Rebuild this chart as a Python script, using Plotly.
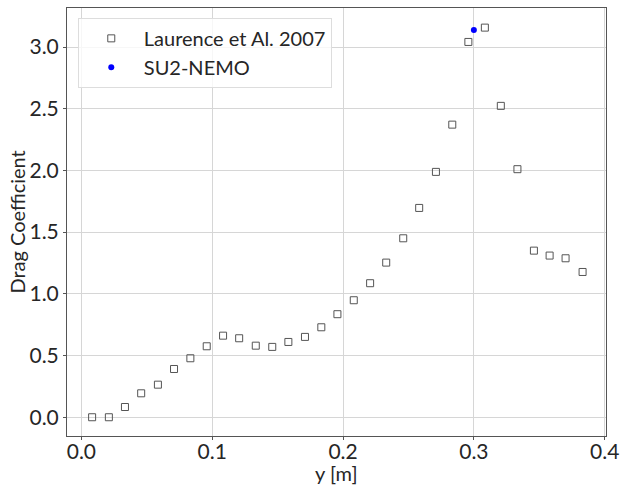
import plotly.graph_objects as go

exp_y = [0.0082, 0.0210, 0.0333, 0.0457, 0.0585, 0.0708, 0.0833, 0.0958, 0.1083, 0.1206,
         0.1333, 0.1459, 0.1582, 0.1709, 0.1834, 0.1957, 0.2082, 0.2207, 0.2330, 0.2460,
         0.2582, 0.2710, 0.2835, 0.2958, 0.3084, 0.3206, 0.3333, 0.3459, 0.3579, 0.3701,
         0.3831]
exp_cd = [0.000, 0.000, 0.083, 0.194, 0.264, 0.391, 0.478, 0.575, 0.661, 0.640,
          0.580, 0.570, 0.610, 0.651, 0.729, 0.835, 0.948, 1.086, 1.253, 1.450,
          1.696, 1.988, 2.371, 3.041, 3.157, 2.523, 2.010, 1.350, 1.310, 1.288,
          1.177]
sim_y = [0.300]
sim_cd = [3.138]
x_ticks = [0.0, 0.1, 0.2, 0.3, 0.4]
y_ticks = [0.0, 0.5, 1.0, 1.5, 2.0, 2.5, 3.0]
x_title = "y [m]"
y_title = "Drag Coefficient"

FONT = "Lato"

fig = go.Figure()
fig.add_trace(go.Scatter(
    x=exp_y, y=exp_cd, mode="markers", name="Laurence et Al. 2007",
    marker=dict(symbol="square-open", size=7, color="#555555", line=dict(width=1, color="#555555")),
))
fig.add_trace(go.Scatter(
    x=sim_y, y=sim_cd, mode="markers", name="SU2-NEMO",
    marker=dict(symbol="circle", size=6, color="#0000ff"),
))

axis_common = dict(
    showgrid=True, gridcolor="#d6d6d6", gridwidth=1,
    showline=True, linecolor="#555555", linewidth=1, mirror=True,
    ticks="outside", ticklen=3, tickcolor="#555555",
    zeroline=False, automargin=False,
    tickfont=dict(family=FONT, size=21, color="#262626"),
)

fig.update_layout(
    width=622, height=485,
    margin=dict(l=67, r=16, t=8, b=49),
    paper_bgcolor="white", plot_bgcolor="white",
    font=dict(family=FONT, size=20, color="#262626"),
    xaxis=dict(range=[-0.011, 0.401], tickvals=x_ticks,
               ticktext=[f"{v:.1f}" for v in x_ticks], ticklabelstandoff=-6,
               **axis_common),
    yaxis=dict(range=[-0.152, 3.316], tickvals=y_ticks,
               ticktext=[f"{v:.1f}" for v in y_ticks],
               **axis_common),
    legend=dict(x=0.02, y=0.977, xanchor="left", yanchor="top",
                bgcolor="rgba(255,255,255,0.8)", bordercolor="#dddddd", borderwidth=1,
                font=dict(family=FONT, size=20, color="#262626"),
                itemwidth=55, tracegroupgap=0),
    showlegend=True,
    annotations=[
        dict(text=x_title, xref="paper", yref="paper", x=0.5, y=-0.0864,
             xanchor="center", yanchor="middle", showarrow=False,
             font=dict(family=FONT, size=20, color="#262626")),
        dict(text=y_title, xref="paper", yref="paper", x=-0.0935, y=0.5,
             xanchor="center", yanchor="middle", textangle=-90, showarrow=False,
             font=dict(family=FONT, size=20, color="#262626")),
    ],
)

fig.write_html("out.html")
